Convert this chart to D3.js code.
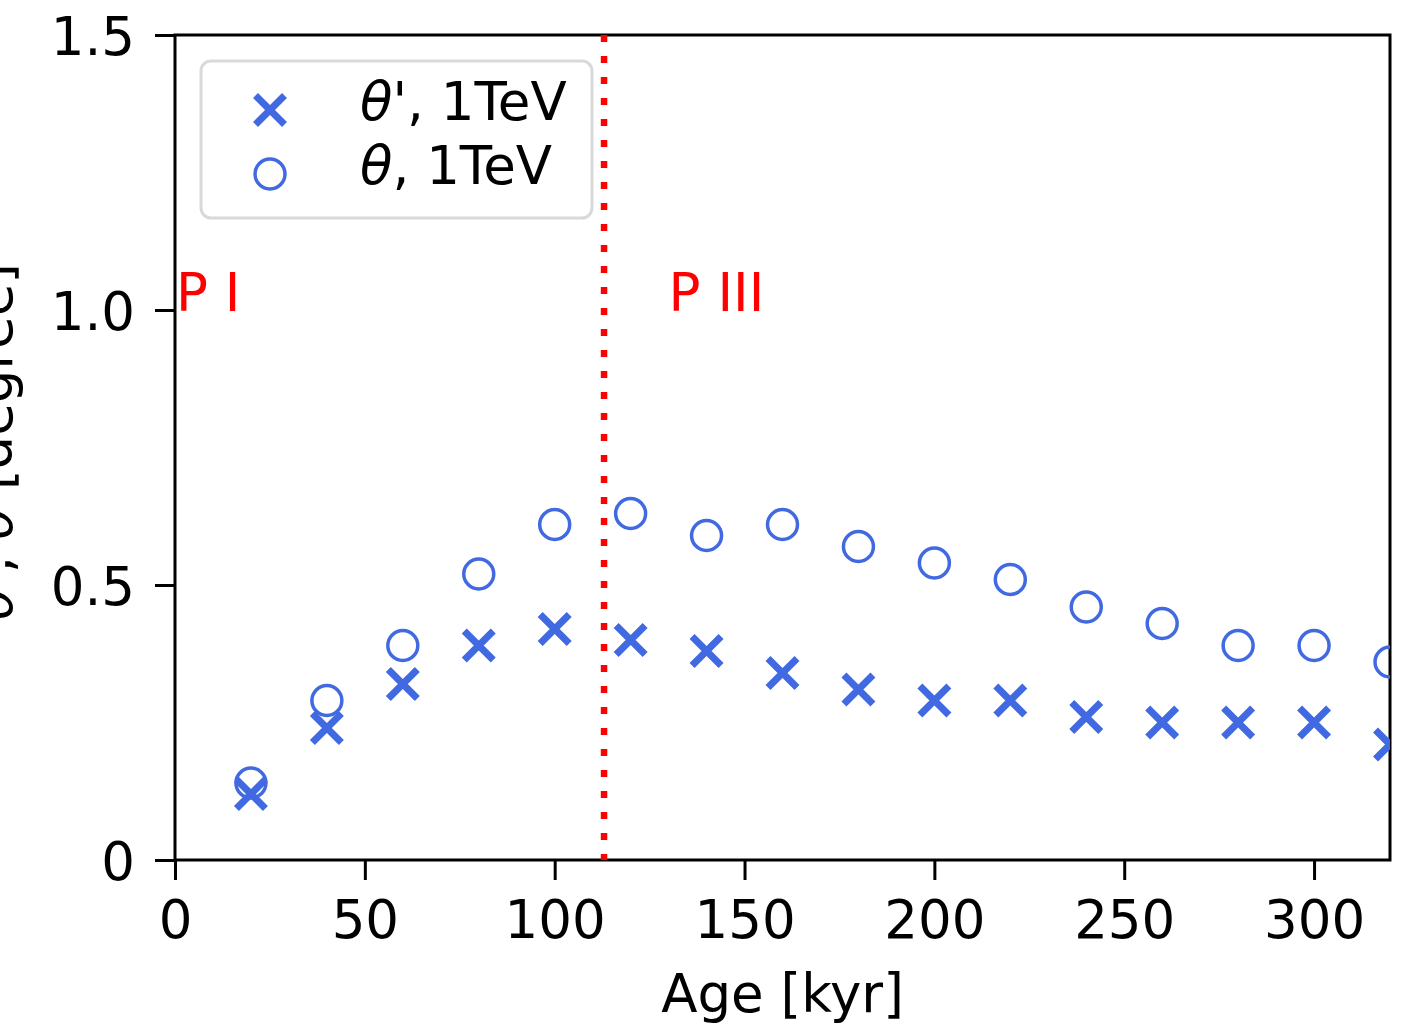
<!DOCTYPE html>
<html><head><meta charset="utf-8">
<script src="https://cdn.jsdelivr.net/npm/d3@7"></script>
<style>body{margin:0;background:#fff}svg{display:block}text{font-family:"DejaVu Sans",sans-serif}</style>
</head><body>
<svg id="c" width="1404" height="1026"></svg>
<script>
const ages = [20,40,60,80,100,120,140,160,180,200,220,240,260,280,300,320];
const thetaPrime = [0.12,0.24,0.32,0.39,0.42,0.40,0.38,0.34,0.31,0.29,0.29,0.26,0.25,0.25,0.25,0.21];
const theta = [0.14,0.29,0.39,0.52,0.61,0.63,0.59,0.61,0.57,0.54,0.51,0.46,0.43,0.39,0.39,0.36];
const xTicks = [0,50,100,150,200,250,300];
const yTicks = [0,0.5,1.0,1.5];
const yTickLabels = ["0","0.5","1.0","1.5"];
const phaseBoundary = 113;
const legendLabels = ["θ', 1TeV","θ, 1TeV"];

const svg = d3.select("#c");
const L=175,R=1390,T=35,B=860;
const x = d3.scaleLinear().domain([0,320]).range([L,R]);
const y = d3.scaleLinear().domain([0,1.5]).range([B,T]);
const blue="#4169e1";

svg.append("defs").append("clipPath").attr("id","clip")
  .append("rect").attr("x",L).attr("y",T).attr("width",R-L).attr("height",B-T);

const fs=53;
// axes
const xa = svg.append("g").attr("transform",`translate(0,${B})`)
  .call(d3.axisBottom(x).tickValues(xTicks).tickSize(20).tickPadding(20).tickFormat(d3.format("d")));
const ya = svg.append("g").attr("transform",`translate(${L},0)`)
  .call(d3.axisLeft(y).tickValues(yTicks).tickSize(20).tickPadding(20).tickFormat((d,i)=>yTickLabels[i]));
[xa,ya].forEach(a=>{
  a.select(".domain").remove();
  a.selectAll("line").attr("stroke","#000").attr("stroke-width",3);
  a.selectAll("text").attr("font-size",fs).attr("fill","#000").attr("font-family","DejaVu Sans");
});
ya.selectAll("text").attr("dy","0.36em");

// frame
svg.append("rect").attr("x",L).attr("y",T).attr("width",R-L).attr("height",B-T)
  .attr("fill","none").attr("stroke","#000").attr("stroke-width",3);

// vertical dotted line
svg.append("line").attr("x1",x(phaseBoundary)).attr("x2",x(phaseBoundary))
  .attr("y1",T).attr("y2",B).attr("stroke","#ff0000").attr("stroke-width",6.5)
  .attr("stroke-dasharray","7,14");

// phase labels
svg.append("text").attr("x",x(0)+1).attr("y",y(1.0)+1).attr("fill","#ff0000").attr("font-size",fs).text("P I");
svg.append("text").attr("x",x(130)).attr("y",y(1.0)+1).attr("fill","#ff0000").attr("font-size",fs).text("P III");

const g = svg.append("g").attr("clip-path","url(#clip)");
const cs=14.5;
function xMark(sel){
  sel.append("path").attr("d",`M${-cs},${-cs}L${cs},${cs}M${-cs},${cs}L${cs},${-cs}`)
    .attr("stroke",blue).attr("stroke-width",7).attr("fill","none");
}
g.selectAll("g.tp").data(ages).join("g").attr("class","tp")
  .attr("transform",(d,i)=>`translate(${x(d)},${y(thetaPrime[i])})`).call(xMark);
g.selectAll("circle.th").data(ages).join("circle").attr("class","th")
  .attr("cx",d=>x(d)).attr("cy",(d,i)=>y(theta[i])).attr("r",15)
  .attr("fill","none").attr("stroke",blue).attr("stroke-width",3.5);

// legend
const lg = svg.append("g");
lg.append("rect").attr("x",201).attr("y",61).attr("width",391).attr("height",157).attr("rx",10)
  .attr("fill","#fff").attr("fill-opacity",0.8).attr("stroke","#d9d9d9").attr("stroke-width",3);
const l1 = lg.append("g").attr("transform","translate(270,110)"); xMark(l1);
lg.append("circle").attr("cx",270).attr("cy",174).attr("r",15).attr("fill","none").attr("stroke",blue).attr("stroke-width",3.5);
lg.selectAll("text.lt").data(legendLabels).join("text").attr("class","lt")
  .attr("x",360).attr("y",(d,i)=>120+i*64).attr("font-size",fs).attr("fill","#000")
  .each(function(d){
    const t=d3.select(this);
    t.append("tspan").attr("font-style","italic").text("θ");
    t.append("tspan").text(d.slice(1));
  });

// axis labels
svg.append("text").attr("x",x(160)).attr("y",1012).attr("text-anchor","middle")
  .attr("font-size",fs).attr("fill","#000").text("Age [kyr]");
svg.append("text").attr("transform",`translate(12,263) rotate(-90)`).attr("text-anchor","end")
  .attr("font-size",fs).attr("fill","#000")
  .each(function(){
    const t=d3.select(this);
    t.append("tspan").attr("font-style","italic").text("θ");
    t.append("tspan").text("', ");
    t.append("tspan").attr("font-style","italic").text("θ");
    t.append("tspan").text(" [degree]");
  });
</script>
</body></html>
